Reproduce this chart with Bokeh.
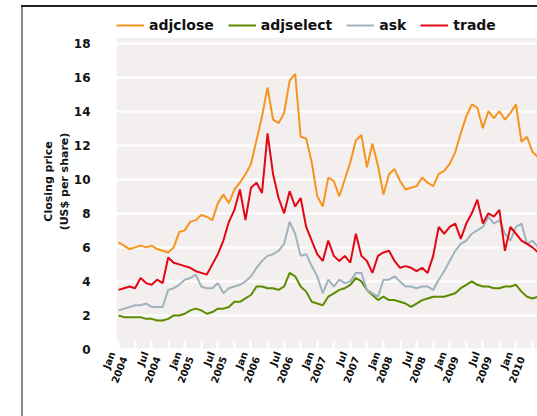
from bokeh.plotting import figure
from bokeh.models import Range1d, FixedTicker, Legend, LegendItem, BoxAnnotation
from bokeh.embed import file_html
from bokeh.resources import INLINE

# month index (0 = first tick)
months = list(range(77))

adjclose = [6.3, 6.1, 5.9, 6.0, 6.1, 6.0, 6.1, 5.9, 5.8, 5.7, 6.0, 6.9, 7.0, 7.5, 7.6, 7.9, 7.8, 7.6, 8.6, 9.1,
            8.6, 9.4, 9.8, 10.3, 10.9, 12.3, 13.7, 15.4, 13.5, 13.3, 13.9, 15.8, 16.2, 12.5, 12.4, 11.0, 9.0, 8.4, 10.1, 9.9,
            9.0, 10.0, 11.0, 12.3, 12.6, 10.7, 12.1, 10.8, 9.1, 10.3, 10.6, 9.9, 9.4, 9.5, 9.6, 10.1, 9.8, 9.6, 10.3, 10.5,
            10.9, 11.6, 12.7, 13.7, 14.4, 14.2, 13.0, 14.0, 13.6, 14.0, 13.5, 13.9, 14.4, 12.2, 12.5, 11.6, 11.3]
adjselect = [2.0, 1.9, 1.9, 1.9, 1.9, 1.8, 1.8, 1.7, 1.7, 1.8, 2.0, 2.0, 2.1, 2.3, 2.4, 2.3, 2.1, 2.2, 2.4, 2.4,
             2.5, 2.8, 2.8, 3.0, 3.2, 3.7, 3.7, 3.6, 3.6, 3.5, 3.7, 4.5, 4.3, 3.7, 3.4, 2.8, 2.7, 2.6, 3.1, 3.3,
             3.5, 3.6, 3.8, 4.2, 4.0, 3.5, 3.2, 2.9, 3.1, 2.9, 2.9, 2.8, 2.7, 2.5, 2.7, 2.9, 3.0, 3.1, 3.1, 3.1,
             3.2, 3.3, 3.6, 3.8, 4.0, 3.8, 3.7, 3.7, 3.6, 3.6, 3.7, 3.7, 3.8, 3.4, 3.1, 3.0, 3.1]
ask = [2.3, 2.4, 2.5, 2.6, 2.6, 2.7, 2.5, 2.5, 2.5, 3.5, 3.6, 3.8, 4.1, 4.2, 4.4, 3.7, 3.6, 3.6, 3.9, 3.3,
       3.6, 3.7, 3.8, 4.0, 4.3, 4.8, 5.2, 5.5, 5.6, 5.8, 6.2, 7.5, 6.8, 5.5, 5.6, 4.9, 4.3, 3.3, 4.1, 3.7,
       4.1, 3.9, 4.0, 4.5, 4.5, 3.5, 3.3, 3.1, 4.1, 4.1, 4.3, 4.0, 3.7, 3.7, 3.6, 3.7, 3.7, 3.5, 4.1, 4.6,
       5.2, 5.8, 6.2, 6.4, 6.8, 7.0, 7.2, 7.8, 7.4, 7.6, 6.8, 6.4, 7.2, 7.4, 6.2, 6.4, 6.0]
trade = [3.5, 3.6, 3.7, 3.6, 4.2, 3.9, 3.8, 4.1, 3.9, 5.4, 5.1, 5.0, 4.9, 4.8, 4.6, 4.5, 4.4, 5.0, 5.6, 6.4,
         7.5, 8.2, 9.4, 7.6, 9.5, 9.8, 9.2, 12.7, 10.3, 8.9, 8.0, 9.3, 8.4, 8.9, 7.2, 6.4, 5.6, 5.2, 6.4, 5.5,
         5.2, 5.5, 5.1, 6.8, 5.5, 5.2, 4.5, 5.5, 5.7, 5.8, 5.2, 4.8, 4.9, 4.8, 4.6, 4.8, 4.5, 5.5, 7.2, 6.8,
         7.2, 7.4, 6.5, 7.4, 8.0, 8.8, 7.4, 8.0, 7.8, 8.2, 5.8, 7.2, 6.8, 6.4, 6.2, 6.0, 5.7]

series_names = ["adjclose", "adjselect", "ask", "trade"]
series_colors = ["#f7941d", "#5b8c00", "#9fb3bf", "#e30613"]

tick_months = [0, 6, 12, 18, 24, 30, 36, 42, 48, 54, 60, 66, 72]
tick_labels = ["Jan\n2004", "Jul\n2004", "Jan\n2005", "Jul\n2005", "Jan\n2006", "Jul\n2006", "Jan\n2007",
               "Jul\n2007", "Jan\n2008", "Jul\n2008", "Jan\n2009", "Jul\n2009", "Jan\n2010"]
minor_months = list(range(0, 77, 3))
y_ticks = [0, 2, 4, 6, 8, 10, 12, 14, 16, 18]

FONT = "DejaVu Sans"
Y_LO, Y_PLOT_TOP, Y_FRAME_TOP = -0.06, 18.3, 19.8

p = figure(width=537, height=416, output_backend="svg", toolbar_location=None,
           x_range=Range1d(-0.36, 75.9), y_range=Range1d(Y_LO, Y_FRAME_TOP),
           min_border_left=116, min_border_right=0, min_border_top=12, min_border_bottom=66,
           background_fill_color="white", border_fill_color="white", border_fill_alpha=0,
           outline_line_color=None)
# outer frame lines of the picture (top dark, left grey)
p.styles = {"background": "linear-gradient(#222222, #222222) 21px 5px / 520px 2px no-repeat, "
                          "linear-gradient(#888888, #888888) 21px 5px / 2px 420px no-repeat, white"}

# plotting-area background (stops below the legend)
p.add_layout(BoxAnnotation(bottom=Y_LO, top=Y_PLOT_TOP, fill_color="#f3efef", fill_alpha=1,
                           line_color=None, level="image"))

items = []
for name, vals, col in zip(series_names, [adjclose, adjselect, ask, trade], series_colors):
    r = p.line(months, vals, line_color=col, line_width=2)
    items.append(LegendItem(label=name, renderers=[r]))

p.xgrid.visible = False
p.ygrid.grid_line_color = "white"
p.ygrid.grid_line_width = 2
p.ygrid.ticker = FixedTicker(ticks=y_ticks)

xa = p.xaxis[0]
xa.ticker = FixedTicker(ticks=tick_months, minor_ticks=minor_months)
xa.major_label_overrides = {m: l for m, l in zip(tick_months, tick_labels)}
xa.major_label_orientation = 1.2
xa.axis_line_color = None
xa.major_tick_in = 9
xa.major_tick_out = 0
xa.minor_tick_in = 9
xa.minor_tick_out = 0
xa.major_tick_line_color = "white"
xa.minor_tick_line_color = "white"
xa.major_tick_line_width = 2
xa.minor_tick_line_width = 2
xa.major_label_text_font = FONT
xa.major_label_text_font_style = "bold"
xa.major_label_text_font_size = "10px"
xa.major_label_text_color = "#111111"
xa.major_label_standoff = 4

ya = p.yaxis[0]
ya.ticker = FixedTicker(ticks=y_ticks)
ya.axis_line_color = None
ya.major_tick_line_color = None
ya.minor_tick_line_color = None
ya.major_label_text_font = FONT
ya.major_label_text_font_style = "bold"
ya.major_label_text_font_size = "12px"
ya.major_label_text_color = "#111111"
ya.major_label_standoff = 20
ya.axis_label = "Closing price\n(US$ per share)"
ya.axis_label_text_font = FONT
ya.axis_label_text_font_style = "bold"
ya.axis_label_text_font_size = "11px"
ya.axis_label_text_color = "#111111"
ya.axis_label_standoff = 0

legend = Legend(items=items, orientation="horizontal", location=(0, 317),
                label_text_font=FONT, label_text_font_style="bold", label_text_font_size="14px",
                label_text_color="#111111", glyph_width=28, glyph_height=12, spacing=14,
                label_standoff=5, padding=0, margin=0, border_line_color=None,
                background_fill_alpha=0)
p.add_layout(legend)

open("out.html", "w").write(file_html(p, INLINE))
